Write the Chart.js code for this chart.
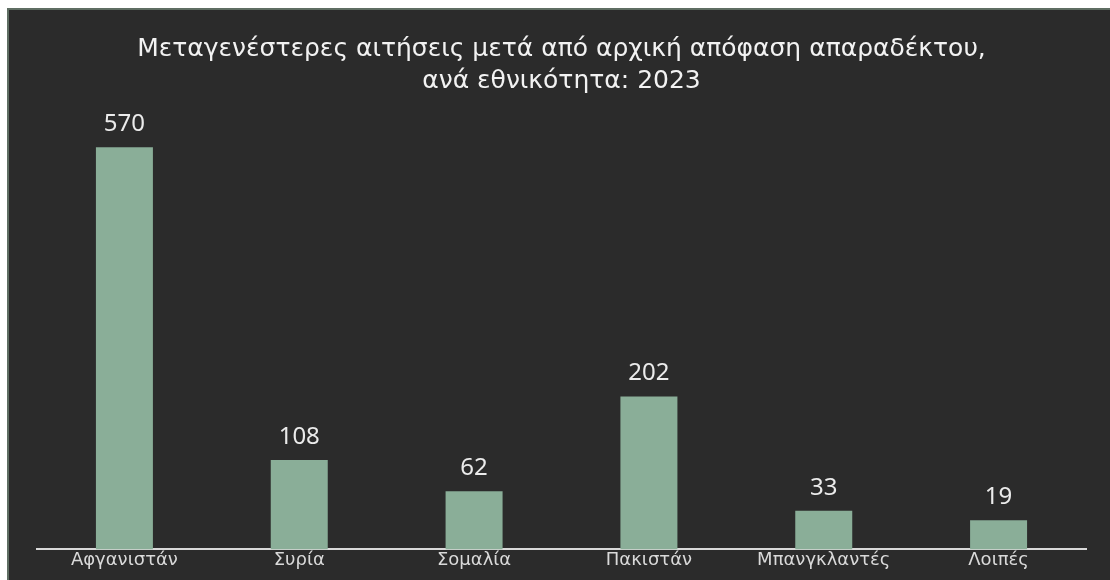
<!DOCTYPE html>
<html>
<head>
<meta charset="utf-8">
<script src="https://cdn.jsdelivr.net/npm/chart.js@4"></script>
<style>
  html, body { margin: 0; padding: 0; background: #ffffff; overflow: hidden; }
  #frame {
    position: absolute; left: 7px; top: 8px; right: 0; bottom: 0;
    border-left: 2px solid #5f6e63; border-top: 2px solid #5f6e63;
    background: #2b2b2b;
  }
</style>
</head>
<body>
<div id="frame">
  <canvas id="chart" width="1101" height="570"></canvas>
</div>
<script>
// Data
const titleLines = ['Μεταγενέστερες αιτήσεις μετά από αρχική απόφαση απαραδέκτου,', 'ανά εθνικότητα: 2023'];
const countries = ['Αφγανιστάν', 'Συρία', 'Σομαλία', 'Πακιστάν', 'Μπανγκλαντές', 'Λοιπές'];
const applications = [570, 108, 62, 202, 33, 19];

const FONT = '"DejaVu Sans", sans-serif';
const LABEL_FONT = '"Noto Sans", sans-serif';
const axisMin = -24;  // bars in the original start below zero

// Draws the value above every bar
const valueLabels = {
    id: 'valueLabels',
    afterDatasetsDraw(chart) {
        const ctx = chart.ctx;
        const meta = chart.getDatasetMeta(0);
        ctx.save();
        ctx.font = '24px ' + LABEL_FONT;
        ctx.fillStyle = '#ebebeb';
        ctx.textAlign = 'center';
        ctx.textBaseline = 'alphabetic';
        meta.data.forEach((bar, i) => {
            ctx.fillText(String(applications[i]), bar.x, bar.y - 16);
        });
        ctx.restore();
    }
};

const ctx = document.getElementById('chart').getContext('2d');
new Chart(ctx, {
    type: 'bar',
    data: {
        labels: countries,
        datasets: [{
            data: applications,
            base: axisMin,
            backgroundColor: '#8aae98',
            borderWidth: 0,
            categoryPercentage: 1,
            barPercentage: 0.326
        }]
    },
    options: {
        responsive: false,
        animation: false,
        layout: { padding: { left: 28, right: 24, top: 0, bottom: 9 } },
        scales: {
            x: {
                grid: { display: false, drawTicks: false },
                border: { display: true, color: '#d9d9d9', width: 2 },
                ticks: { color: '#d9d9d9', font: { family: FONT, size: 18 }, padding: 0 }
            },
            y: {
                display: false,
                min: axisMin,
                max: 625
            }
        },
        plugins: {
            legend: { display: false },
            tooltip: { enabled: false },
            title: {
                display: true,
                text: titleLines,
                color: '#f2f2f2',
                font: { family: FONT, size: 25, weight: 'normal', lineHeight: 1.28 },
                padding: { top: 23, bottom: 13 }
            }
        }
    },
    plugins: [valueLabels]
});
</script>
</body>
</html>
